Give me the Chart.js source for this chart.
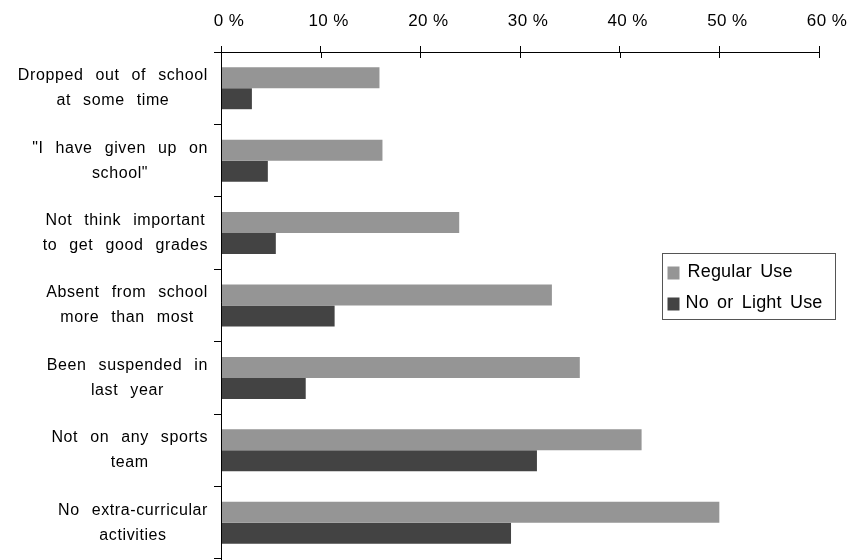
<!DOCTYPE html>
<html>
<head>
<meta charset="utf-8">
<script src="https://cdn.jsdelivr.net/npm/chart.js@4.4.1/dist/chart.umd.min.js"></script>
<style>
  html, body { margin: 0; padding: 0; background: #fff; }
  #wrap { width: 855px; height: 560px; position: relative; }
</style>
</head>
<body>
<div id="wrap"><canvas id="grafico"></canvas></div>
<script>
const categorias = [
  ['Dropped out of school', 'at some time'],
  ['"I have given up on', 'school"'],
  ['Not think important', 'to get good grades'],
  ['Absent from school', 'more than most'],
  ['Been suspended in', 'last year'],
  ['Not on any sports', 'team'],
  ['No extra-curricular', 'activities']
];
const usoRegular = [15.9, 16.2, 23.9, 33.2, 36.0, 42.2, 50.0];
const usoLeve = [3.1, 4.7, 5.5, 11.4, 8.5, 31.7, 29.1];
const nomesSeries = ['Regular Use', 'No or Light Use'];
const coresSeries = ['#959595', '#434343'];
const eixoMin = 0, eixoMax = 60, eixoPasso = 10;

const fonte = '"Liberation Sans", Arial, sans-serif';

// espacamento das letras dos rotulos do eixo x
const espacamento = {
  id: 'espacamento',
  beforeDraw(chart) {
    chart.ctx.letterSpacing = '0.4px';
  },
  afterDraw(chart) {
    chart.ctx.letterSpacing = '0px';
  }
};

// rotulos das categorias: cada bloco alinhado a direita, linhas centradas
const rotulosY = {
  id: 'rotulosY',
  afterDraw(chart) {
    const ctx = chart.ctx;
    const y = chart.scales.y;
    ctx.save();
    ctx.font = '16px ' + fonte;
    ctx.fillStyle = '#000';
    ctx.textAlign = 'center';
    ctx.textBaseline = 'middle';
    ctx.letterSpacing = '0.6px';
    ctx.wordSpacing = '7px';
    const direita = y.right - 13;
    const alturaLinha = 25;
    chart.data.labels.forEach((linhas, i) => {
      const centro = y.getPixelForValue(i);
      const larg = Math.max(...linhas.map(l => ctx.measureText(l).width));
      const cx = direita - larg / 2;
      linhas.forEach((l, k) => {
        ctx.fillText(l, cx, centro + (k - (linhas.length - 1) / 2) * alturaLinha);
      });
    });
    ctx.restore();
  }
};

// marcas do eixo x cruzando a linha, e legenda em caixa
const extras = {
  id: 'extras',
  afterDraw(chart) {
    const ctx = chart.ctx;
    const x = chart.scales.x;
    const area = chart.chartArea;
    ctx.save();
    ctx.strokeStyle = '#000';
    ctx.lineWidth = 1;
    for (let v = eixoMin; v <= eixoMax; v += eixoPasso) {
      const px = Math.round(x.getPixelForValue(v)) + 0.5;
      ctx.beginPath();
      ctx.moveTo(px, area.top);
      ctx.lineTo(px, area.top + 6);
      ctx.stroke();
    }
    // linha do eixo y um pouco acima do eixo x
    const px0 = Math.round(x.getPixelForValue(eixoMin)) + 0.5;
    ctx.beginPath();
    ctx.moveTo(px0, area.top - 6);
    ctx.lineTo(px0, area.bottom);
    ctx.stroke();

    // legenda
    const lx = 662.5, ly = 253.5, lw = 173, lh = 66;
    ctx.strokeStyle = '#555';
    ctx.strokeRect(lx, ly, lw, lh);
    ctx.font = '18px ' + fonte;
    ctx.textBaseline = 'middle';
    ctx.textAlign = 'left';
    ctx.letterSpacing = '0.2px';
    ctx.wordSpacing = '3px';
    chart.data.datasets.forEach((ds, i) => {
      const cy = ly + 19 + i * 31;
      ctx.fillStyle = ds.backgroundColor;
      ctx.fillRect(lx + 5, cy - 6, 12, 13);
      ctx.fillStyle = '#000';
      ctx.fillText(ds.label, lx + (i === 0 ? 25 : 23), cy);
    });
    ctx.restore();
  }
};

new Chart(document.getElementById('grafico'), {
  type: 'bar',
  data: {
    labels: categorias,
    datasets: [
      { label: nomesSeries[0], data: usoRegular, backgroundColor: coresSeries[0] },
      { label: nomesSeries[1], data: usoLeve, backgroundColor: coresSeries[1] }
    ]
  },
  options: {
    indexAxis: 'y',
    responsive: true,
    maintainAspectRatio: false,
    animation: false,
    layout: { padding: { left: 0, right: 36, top: 0, bottom: 1 } },
    datasets: {
      bar: { categoryPercentage: 0.58, barPercentage: 1.0, borderWidth: 0 }
    },
    plugins: {
      legend: { display: false },
      tooltip: { enabled: false }
    },
    scales: {
      x: {
        position: 'top',
        min: eixoMin,
        max: eixoMax,
        afterFit(scale) { scale.height = 52; },
        ticks: {
          stepSize: eixoPasso,
          padding: 14,
          labelOffset: 8,
          color: '#000',
          font: { family: fonte, size: 17 },
          callback: v => v + ' %'
        },
        grid: { drawOnChartArea: false, tickLength: 6, color: '#000' },
        border: { color: '#000', width: 1 }
      },
      y: {
        afterFit(scale) { scale.width = 221; },
        ticks: { display: false },
        grid: { drawOnChartArea: false, offset: true, tickLength: 7, color: '#000' },
        border: { color: '#000', width: 1 }
      }
    }
  },
  plugins: [espacamento, rotulosY, extras]
});
</script>
</body>
</html>
